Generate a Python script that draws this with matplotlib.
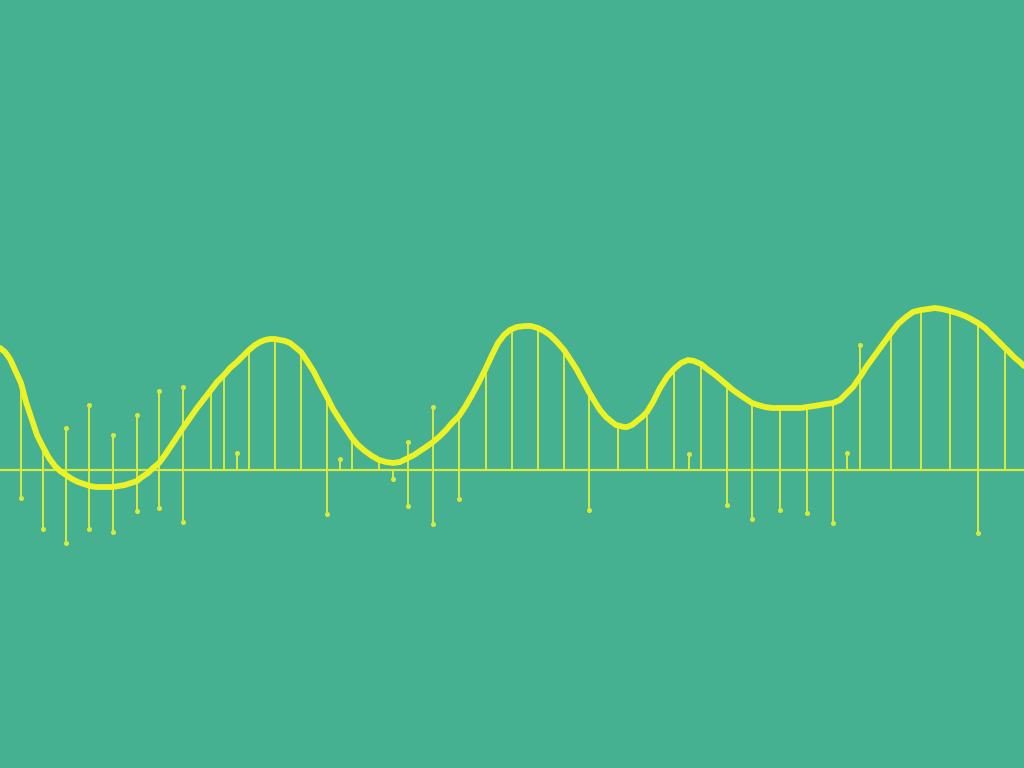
import numpy as np
import matplotlib
matplotlib.use("Agg")
import matplotlib.pyplot as plt

# smooth wave (x position, height above baseline)
curve_x = [0, 5, 10, 15, 21, 26, 32, 37, 43, 49, 55, 60, 66, 72, 78, 84, 90, 96, 102, 108, 113,
           119, 125, 131, 137, 142, 148, 153, 159, 165, 171, 177, 183, 190, 197, 204, 211, 217,
           224, 230, 237, 243, 249, 255, 260, 265, 270, 275, 280, 285, 290, 295, 301, 307, 314,
           320, 327, 333, 340, 346, 352, 358, 365, 372, 379, 386, 393, 400, 408, 414, 420, 426,
           433, 440, 446, 452, 459, 465, 472, 479, 486, 492, 498, 504, 510, 517, 525, 531, 538,
           544, 550, 557, 564, 570, 577, 583, 589, 595, 600, 606, 612, 616, 620, 624, 627, 632,
           637, 642, 647, 653, 660, 667, 674, 681, 688, 694, 701, 707, 714, 720, 727, 733, 740,
           746, 752, 758, 765, 772, 780, 787, 795, 801, 807, 814, 820, 826, 833, 840, 846, 853,
           860, 867, 875, 883, 891, 898, 906, 913, 921, 928, 935, 942, 950, 957, 965, 971, 978,
           985, 992, 998, 1005, 1010, 1015, 1020, 1024]
curve_v = [122, 118, 111, 100, 87, 68, 50, 35, 23, 12, 4, -1, -5, -9, -12, -14, -16, -17, -17, -17, -17,
           -16, -15, -13, -11, -7, -3, 2, 7, 15, 24, 33, 42, 52, 62, 71, 80, 88,
           95, 102, 108, 114, 120, 125, 128, 130, 131, 131, 130, 129, 127, 123, 118, 109, 98,
           86, 73, 61, 50, 41, 32, 25, 19, 14, 10, 8, 7, 8, 12, 15, 19, 23,
           28, 34, 40, 47, 54, 63, 75, 88, 102, 115, 127, 135, 140, 143, 144, 144, 142,
           139, 135, 128, 120, 111, 100, 89, 78, 68, 60, 53, 48, 45, 44, 43, 43, 45,
           49, 53, 58, 68, 82, 93, 101, 107, 110, 109, 106, 101, 96, 91, 85, 80, 75,
           71, 67, 65, 63, 62, 62, 62, 62, 62, 63, 64, 65, 66, 67, 70, 76, 83,
           93, 104, 115, 126, 137, 146, 153, 158, 160, 161, 162, 161, 159, 157, 154, 151, 147,
           142, 135, 129, 122, 117, 112, 108, 104]

# vertical stems: position, top, bottom
stem_x = [21, 43, 66, 89, 113, 137, 159, 183, 211, 224, 237, 249, 275, 301, 327, 340, 352, 379,
          393, 408, 433, 459, 486, 512, 538, 564, 589, 618, 647, 674, 689, 701, 727, 752,
          780, 807, 833, 847, 860, 891, 921, 950, 978, 1005]
stem_top = [87, 23, 42, 65, 35, 55, 79, 83, 80, 95, 17, 120, 131, 118, 73, 11, 32, 10,
            0, 28, 63, 54, 102, 140, 142, 120, 78, 46, 58, 101, 16, 106, 85, 67,
            62, 63, 67, 17, 125, 137, 160, 159, 147, 122]
stem_bot = [-28, -59, -73, -59, -62, -41, -38, -52, 0, 0, 0, 0, 0, 0, -44, 0, 0, 0,
            -9, -36, -54, -29, 0, 0, 0, 0, -40, 0, 0, 0, 0, 0, -35, -49,
            -40, -43, -53, 0, 0, 0, 0, 0, -63, 0]
free_top = [66, 89, 113, 137, 159, 183, 237, 340, 408, 433, 689, 847, 860]

bg = "#46b190"
stem_col = "#d8ea3c"
curve_col = "#ecf224"

fig = plt.figure(figsize=(10.24, 7.68), dpi=100)
fig.patch.set_facecolor(bg)
ax = fig.add_axes([0, 0, 1, 1])
ax.set_facecolor(bg)

ax.axhline(0, color=stem_col, lw=1.6, zorder=2)
ax.vlines(stem_x, stem_bot, stem_top, color=stem_col, lw=1.4, zorder=2)

bx = [x for x, b in zip(stem_x, stem_bot) if b < 0]
bv = [b for b in stem_bot if b < 0]
ax.plot(bx, bv, "o", color=stem_col, ms=2.6, zorder=3)
tx = [x for x, t in zip(stem_x, stem_top) if x in free_top]
tv = [t for x, t in zip(stem_x, stem_top) if x in free_top]
ax.plot(tx, tv, "o", color=stem_col, ms=2.6, zorder=3)

ax.plot(curve_x, curve_v, color=curve_col, lw=4.2, solid_joinstyle="round",
        solid_capstyle="round", zorder=4)

ax.set_xlim(0, 1024)
ax.set_ylim(470 - 768, 470)
ax.axis("off")

fig.savefig("out.png", dpi=100, facecolor=bg)
